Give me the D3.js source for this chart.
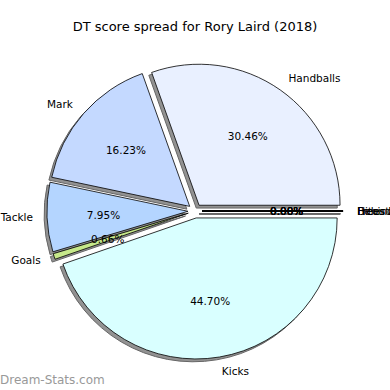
<!DOCTYPE html>
<html>
<head>
<meta charset="utf-8">
<script src="https://cdn.jsdelivr.net/npm/d3@7"></script>
<style>
  body { margin: 0; background: #fff; }
  svg { display: block; font-family: "DejaVu Sans", sans-serif; }
</style>
</head>
<body>
<div id="chart"></div>
<script>
// Chart data
const title = "DT score spread for Rory Laird (2018)";
const labels = ["Handballs", "Mark", "Tackle", "Goals", "Kicks", "Behinds", "Hitouts", "Frees For", "Frees Against"];
const values = [30.46, 16.23, 7.95, 0.66, 44.70, 0, 0, 0, 0];
const colors = ["#e9f0ff", "#c4d9ff", "#b4d5ff", "#c6e88a", "#d9ffff", "#ffe0e0", "#e0ffe0", "#fff0c0", "#f0e0ff"];

/************************************
 * Draw the pie
 ************************************/
const w = 390;
const h = 390;
const cx = 195;
const cy = 211;
const r = 141;
const explode = 0.05 * r;

const svg = d3.select("#chart")
  .append("svg")
  .attr("width", w)
  .attr("height", h);

const total = d3.sum(values);
const data = labels.map((l, i) => ({ label: l, value: values[i], color: colors[i] }));

// counter-clockwise from 3 o'clock, like matplotlib
const pie = d3.pie()
  .value(d => d.value)
  .sort(null)
  .startAngle(Math.PI / 2)
  .endAngle(Math.PI / 2 - 2 * Math.PI);

const arc = d3.arc().innerRadius(0).outerRadius(r);

const arcs = pie(data).map(a => {
  const mid = (a.startAngle + a.endAngle) / 2;
  a.dx = Math.sin(mid);
  a.dy = -Math.cos(mid);
  a.ox = cx + explode * a.dx;
  a.oy = cy + explode * a.dy;
  return a;
});

// shadows
svg.append("g").selectAll("path")
  .data(arcs)
  .enter()
  .append("path")
  .attr("transform", d => "translate(" + (d.ox - 0.02 * r) + "," + (d.oy + 0.02 * r) + ")")
  .attr("d", arc)
  .style("fill", "#929292")
  .style("stroke", "#666")
  .style("stroke-width", 1);

// wedges
svg.append("g").selectAll("path")
  .data(arcs)
  .enter()
  .append("path")
  .attr("transform", d => "translate(" + d.ox + "," + d.oy + ")")
  .attr("d", arc)
  .style("fill", d => d.data.color)
  .style("stroke", "#000")
  .style("stroke-width", 0.8)
  .style("stroke-linejoin", "round");

// outer labels
svg.append("g").selectAll("text")
  .data(arcs)
  .enter()
  .append("text")
  .attr("x", d => d.ox + 1.1 * r * d.dx)
  .attr("y", d => d.oy + 1.1 * r * d.dy)
  .attr("dy", "0.35em")
  .attr("text-anchor", d => d.dx >= 0 ? "start" : "end")
  .style("font-size", "10.5px")
  .text(d => d.data.label);

// percentages
svg.append("g").selectAll("text")
  .data(arcs)
  .enter()
  .append("text")
  .attr("x", d => d.ox + 0.6 * r * d.dx)
  .attr("y", d => d.oy + 0.6 * r * d.dy)
  .attr("dy", "0.35em")
  .attr("text-anchor", "middle")
  .style("font-size", "10.5px")
  .text(d => (d.data.value / total * 100).toFixed(2) + "%");

// title
svg.append("text")
  .attr("x", 195)
  .attr("y", 26)
  .attr("dy", "0.35em")
  .attr("text-anchor", "middle")
  .style("font-size", "13px")
  .text(title);

// watermark
svg.append("text")
  .attr("x", 0)
  .attr("y", 384)
  .style("font-size", "12px")
  .style("fill", "#999")
  .text("Dream-Stats.com");
</script>
</body>
</html>
